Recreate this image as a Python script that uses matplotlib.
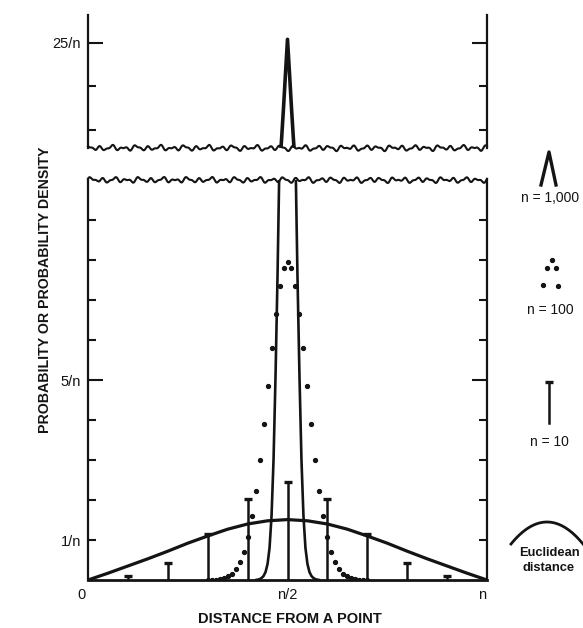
import numpy as np
import matplotlib.pyplot as plt

plt.rcParams['font.family'] = ['Liberation Sans', 'DejaVu Sans']
INK = "#141414"

# n = 10: probability of each distance k, read in units of 1/n
k10 = [0, 1, 2, 3, 4, 5, 6, 7, 8, 9, 10]
p10 = [0.01, 0.1, 0.43, 1.15, 2.02, 2.45, 2.02, 1.15, 0.43, 0.1, 0.01]

# n = 100: dots
k100 = list(range(30, 71))
p100 = [0.002, 0.005, 0.011, 0.023, 0.045, 0.09, 0.16, 0.27, 0.45, 0.71,
        1.08, 1.59, 2.23, 3.0, 3.9, 4.85, 5.8, 6.66, 7.35, 7.8,
        7.96,
        7.8, 7.35, 6.66, 5.8, 4.85, 3.9, 3.0, 2.23, 1.59, 1.08,
        0.71, 0.45, 0.27, 0.16, 0.09, 0.045, 0.023, 0.011, 0.005, 0.002]

# n = 1000: density curve
k1000 = list(range(420, 581, 5))
p1000 = [0.0, 0.008, 0.02, 0.05, 0.1, 0.2, 0.4, 0.8, 1.6, 3.0, 5.1, 7.6, 10.6,
         13.8, 17.5, 21.5, 25.4, 21.5, 17.5, 13.8, 10.6, 7.6, 5.1, 3.0, 1.6,
         0.8, 0.4, 0.2, 0.1, 0.05, 0.02, 0.008, 0.0]

# Euclidean distance density
e_x = [0, 0.05, 0.1, 0.15, 0.2, 0.25, 0.3, 0.35, 0.4, 0.45, 0.5,
       0.55, 0.6, 0.65, 0.7, 0.75, 0.8, 0.85, 0.9, 0.95, 1.0]
e_y = [0, 0.17, 0.35, 0.53, 0.72, 0.92, 1.1, 1.27, 1.4, 1.48, 1.51,
       1.48, 1.4, 1.27, 1.1, 0.92, 0.72, 0.53, 0.35, 0.17, 0]

W, H = 583, 628
fig = plt.figure(figsize=(W / 100, H / 100), dpi=100)


def px_box(x0, y0, x1, y1):
    return [x0 / W, 1 - y1 / H, (x1 - x0) / W, (y1 - y0) / H]


ax_lo = fig.add_axes(px_box(88, 180, 487, 580))
ax_hi = fig.add_axes(px_box(88, 15, 487, 148))


def wavy(ax, y, phase):
    h_px = ax.get_position().height * H
    x = np.linspace(0, 1, 500)
    w = (0.55 * np.sin(2 * np.pi * 33 * x + phase)
         + 0.35 * np.sin(2 * np.pi * 58 * x + 2.1 * phase)
         + 0.25 * np.sin(2 * np.pi * 17 * x + 0.7 * phase))
    ax.plot(x, y + w * 3.0 / h_px, transform=ax.transAxes, color=INK,
            lw=1.5, clip_on=False)


for ax in (ax_lo, ax_hi):
    ax.set_xlim(0, 1)
    for side in ("left", "right"):
        ax.spines[side].set_linewidth(1.6)
        ax.spines[side].set_color(INK)
    ax.spines["top"].set_visible(False)
    ax.tick_params(which="both", direction="in", left=True, right=True,
                   color=INK, width=1.5, labelsize=10.5, pad=5,
                   labelcolor=INK)
    ax.tick_params(which="major", length=11)
    ax.tick_params(which="minor", length=6)
    ax.plot([k / 1000 for k in k1000], p1000, color=INK, lw=1.9,
            solid_capstyle="round")

# lower panel
ax_lo.set_ylim(0, 10.0)
ax_lo.spines["bottom"].set_linewidth(2.0)
ax_lo.spines["bottom"].set_color(INK)
ax_lo.set_yticks([5], ["5/n"])
ax_lo.set_yticks([1, 2, 3, 4, 6, 7, 8, 9],
                 ["1/n", "", "", "", "", "", "", ""], minor=True)
ax_lo.set_xticks([0, 0.5, 1], ["0", "n/2", "n"])
ax_lo.tick_params(axis="x", length=0, pad=6)
for lab, dx in zip(ax_lo.get_xticklabels(), (-7, 0, -5)):
    lab.set_x(lab.get_position()[0])
    lab.set_transform(lab.get_transform()
                      + plt.matplotlib.transforms.ScaledTranslation(
                          dx / 100, 0, fig.dpi_scale_trans))

ax_lo.plot(e_x, e_y, color=INK, lw=2.3, solid_capstyle="round")
x10 = [k / 10 for k in k10]
ax_lo.vlines(x10, 0, p10, color=INK, lw=1.8)
ax_lo.plot(x10, p10, ls="none", marker="_", ms=6, mew=2.4, color=INK)
ax_lo.plot([k / 100 for k in k100], p100, ls="none", marker="o", ms=2.8,
           color=INK)
wavy(ax_lo, 1.0, 0.3)

# upper panel
ax_hi.set_ylim(12.9, 28.2)
ax_hi.spines["bottom"].set_visible(False)
ax_hi.set_xticks([])
ax_hi.set_yticks([25], ["25/n"])
ax_hi.set_yticks([15, 20], minor=True)
ax_hi.lines[0].set_linewidth(2.6)
wavy(ax_hi, 0.0, 1.7)

fig.text(45 / W, 1 - 290 / H, "PROBABILITY OR PROBABILITY DENSITY",
         rotation=90, ha="center", va="center", fontsize=10.2,
         fontweight="bold", color=INK)
fig.text(290 / W, 1 - 619 / H, "DISTANCE FROM A POINT", ha="center",
         va="center", fontsize=10.5, fontweight="bold", color=INK)

# key on the right, drawn in pixel units
leg = fig.add_axes([500 / W, 0, (W - 500) / W, 1])
leg.set_xlim(500, W)
leg.set_ylim(H, 0)
leg.axis("off")
leg.plot([541, 549, 556], [185, 152, 185], color=INK, lw=2.4,
         solid_joinstyle="round")
leg.text(550, 198, "n = 1,000", ha="center", va="center", fontsize=10,
         color=INK)
leg.plot([552, 547, 556, 543, 558], [260, 268, 268, 285, 286], ls="none",
         marker="o", ms=2.8, color=INK)
leg.text(550, 310, "n = 100", ha="center", va="center", fontsize=10,
         color=INK)
leg.plot([549, 549], [382, 423], color=INK, lw=1.8)
leg.plot([549], [382], marker="_", ms=6, mew=2.4, color=INK)
leg.text(549, 442, "n = 10", ha="center", va="center", fontsize=10,
         color=INK)
t = np.linspace(-1, 1, 50)
leg.plot(547 + 36 * t, 522 + 22 * t ** 2, color=INK, lw=2.0, clip_on=False)
leg.text(549, 553, "Euclidean", ha="center", va="center", fontsize=9.3,
         fontweight="bold", color=INK)
leg.text(549, 568, "distance", ha="center", va="center", fontsize=9.3,
         fontweight="bold", color=INK)

fig.savefig("out.png", dpi=100, facecolor="white")
